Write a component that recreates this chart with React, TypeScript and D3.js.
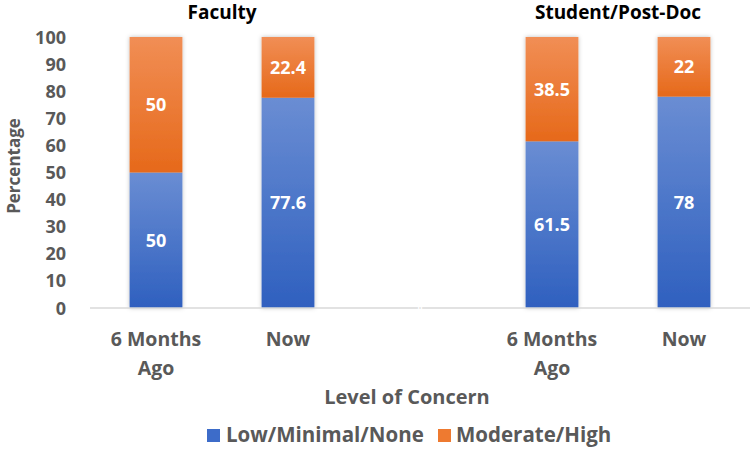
import React from "react";
import * as d3 from "d3";

const categories = ["F6", "FNow", "gap", "S6", "SNow"];
const categoryLabels = [["6 Months", "Ago"], ["Now"], [""], ["6 Months", "Ago"], ["Now"]];
const lowValues = [50, 77.6, 0, 61.5, 78];
const highValues = [50, 22.4, 0, 38.5, 22];
const yTicks = [0, 10, 20, 30, 40, 50, 60, 70, 80, 90, 100];
const groups = [
  { name: "Faculty", members: ["F6", "FNow"] },
  { name: "Student/Post-Doc", members: ["S6", "SNow"] },
];
const seriesNames = ["Low/Minimal/None", "Moderate/High"];

const W = 750, H = 449;
const FONT = "'Open Sans', Lato, sans-serif";
const GRAY = "#595959";

export default function App() {
  const x = d3.scaleBand<string>().domain(categories).range([90, 750]).paddingInner(0.6).paddingOuter(0.3);
  const y = d3.scaleLinear().domain([0, 100]).range([308, 37]);
  const bw = x.bandwidth();

  return (
    <svg width={W} height={H} style={{ position: "absolute", left: 0, top: 0, background: "#fff" }} fontFamily={FONT}>
      <defs>
        <linearGradient id="gBlue" x1="0" y1="0" x2="0" y2="1">
          <stop offset="0" stopColor="#6a8dd3" />
          <stop offset="1" stopColor="#2f60bf" />
        </linearGradient>
        <linearGradient id="gOrange" x1="0" y1="0" x2="0" y2="1">
          <stop offset="0" stopColor="#f18e55" />
          <stop offset="1" stopColor="#e6691a" />
        </linearGradient>
        <filter id="shadow" x="-20%" y="-5%" width="140%" height="110%">
          <feDropShadow dx="0" dy="0" stdDeviation="2" floodColor="#000" floodOpacity="0.25" />
        </filter>
      </defs>

      {/* titles */}
      {groups.map((g) => {
        const cx = (x(g.members[0])! + x(g.members[1])! + bw) / 2;
        return (
          <text key={g.name} x={cx} y={19} textAnchor="middle" fontSize={19} fontWeight="bold" fill="#000">
            {g.name}
          </text>
        );
      })}

      {/* y ticks */}
      {yTicks.map((t) => (
        <text key={t} x={66} y={y(t) + 6.5} textAnchor="end" fontSize={18} fontWeight="bold" fill={GRAY}>
          {t}
        </text>
      ))}
      <text transform={`translate(20,166) rotate(-90)`} textAnchor="middle" fontSize={17} fontWeight="bold" fill={GRAY}>
        Percentage
      </text>

      {/* bars */}
      {categories.map((c, i) => {
        const x0 = x(c)!;
        const lo = lowValues[i], hi = highValues[i];
        if (lo + hi === 0) {
          return null;
        }
        return (
          <g key={c}>
            <g filter="url(#shadow)">
              <rect x={x0} y={y(lo)} width={bw} height={y(0) - y(lo)} fill="url(#gBlue)" />
              <rect x={x0} y={y(lo + hi)} width={bw} height={y(lo) - y(lo + hi)} fill="url(#gOrange)" />
            </g>
            <text x={x0 + bw / 2} y={(y(0) + y(lo)) / 2 + 6.5} textAnchor="middle" fontSize={18} fontWeight="bold" fill="#fff">
              {lo}
            </text>
            <text x={x0 + bw / 2} y={(y(lo) + y(lo + hi)) / 2 + 6.5} textAnchor="middle" fontSize={18} fontWeight="bold" fill="#fff">
              {hi}
            </text>
          </g>
        );
      })}

      {/* axis line */}
      <line x1={90} x2={750} y1={y(0)} y2={y(0)} stroke="#d9d9d9" strokeWidth={1.5} />
      <text x={x("gap")! + bw / 2} y={y(0) + 3} textAnchor="middle" fontSize={8} fontWeight="bold" fill="#fff">0</text>

      {/* category labels */}
      {categories.map((c, i) =>
        categoryLabels[i].map((line, j) => (
          <text key={c + j} x={x(c)! + bw / 2} y={346 + j * 29} textAnchor="middle" fontSize={19.5} fontWeight="bold" fill={GRAY}>
            {line}
          </text>
        ))
      )}
      <text x={407} y={404} textAnchor="middle" fontSize={20} fontWeight="bold" fill={GRAY}>
        Level of Concern
      </text>

      {/* legend */}
      <rect x={207} y={429} width={13} height={13} fill="#3d6cc9" />
      <text x={226} y={442} fontSize={20.5} fontWeight="bold" fill={GRAY}>{seriesNames[0]}</text>
      <rect x={438} y={429} width={13} height={13} fill="#ee7a30" />
      <text x={456} y={442} fontSize={20.5} fontWeight="bold" fill={GRAY}>{seriesNames[1]}</text>
    </svg>
  );
}
